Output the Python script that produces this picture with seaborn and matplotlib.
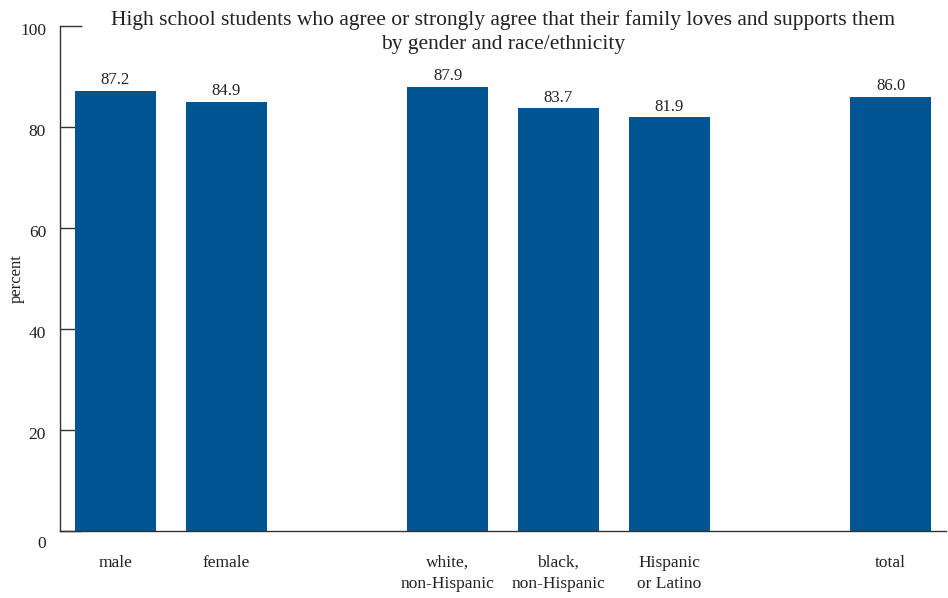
import matplotlib
matplotlib.use("Agg")
import matplotlib.pyplot as plt
import matplotlib.transforms as mtransforms
import seaborn as sns
import pandas as pd

# values
groups = ["male", "female", "white", "black", "hispanic", "total"]
percent = [87.2, 84.9, 87.9, 83.7, 81.9, 86.0]

# slot order, with two empty slots separating gender / race / total
order = ["male", "female", "gap1", "white", "black", "hispanic", "gap2", "total"]
tick_text = ["male", "female", "", "white,\nnon-Hispanic", "black,\nnon-Hispanic",
             "Hispanic\nor Latino", "", "total"]

title = ("High school students who agree or strongly agree that their family loves and supports them\n"
         "by gender and race/ethnicity")

sns.set_theme(style="white")
plt.rcParams["font.family"] = ["Liberation Serif", "DejaVu Serif"]

df = pd.DataFrame({"group": groups, "percent": percent})

fig = plt.figure(figsize=(9.48, 5.98), dpi=100)
ax = fig.add_axes([60 / 948, 67 / 598, 886 / 948, 505 / 598])

sns.barplot(data=df, x="group", y="percent", order=order, color="#005592",
            width=0.73, saturation=1, linewidth=0, ax=ax)

ax.set_xlim(-0.5, 7.5)
ax.set_ylim(0, 100)
ax.set_yticks([0, 20, 40, 60, 80, 100])
ax.set_xticks(range(len(order)))
ax.set_xticklabels(tick_text, fontsize=12.5, color="#222222", linespacing=1.45)
ax.set_axisbelow(True)
ax.tick_params(axis="y", left=True, direction="in", length=16, width=1,
               color="#333333", pad=10, labelsize=12.5, labelcolor="#222222")
ax.tick_params(axis="x", bottom=False, length=0, pad=17)

for lab in ax.get_yticklabels():
    dy = -11 if lab.get_text() == "0" else -3
    lab.set_transform(lab.get_transform() +
                      mtransforms.ScaledTranslation(0, dy / 100, fig.dpi_scale_trans))

ax.set_xlabel("")
ax.set_ylabel("percent", fontsize=12, color="#222222")
ax.yaxis.set_label_coords(-35 / 886, 0.5)

for side in ["top", "right"]:
    ax.spines[side].set_visible(False)
for side in ["left", "bottom"]:
    ax.spines[side].set_color("#333333")
    ax.spines[side].set_linewidth(1)

ax.bar_label(ax.containers[0], fmt="%.1f", padding=2, fontsize=12, color="#222222")

fig.text(503 / 948, 1 - 32 / 598, title, ha="center", va="center",
         fontsize=15.5, color="#222222", linespacing=1.4)

fig.savefig("out.png", dpi=100)
